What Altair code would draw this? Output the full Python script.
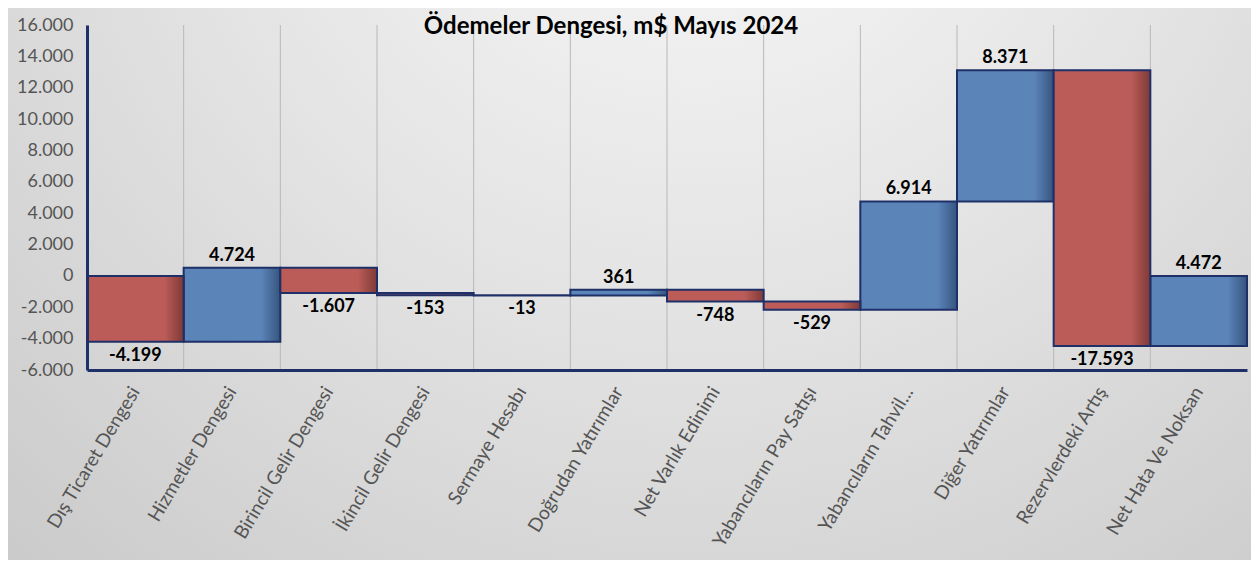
import altair as alt
import pandas as pd

categories = [
    "Dış Ticaret Dengesi", "Hizmetler Dengesi", "Birincil Gelir Dengesi",
    "İkincil Gelir Dengesi", "Sermaye Hesabı", "Doğrudan Yatırımlar",
    "Net Varlık Edinimi", "Yabancıların Pay Satışı", "Yabancıların Tahvil...",
    "Diğer Yatırımlar", "Rezervlerdeki Artış", "Net Hata Ve Noksan",
]
values = [-4199, 4724, -1607, -153, -13, 361, -748, -529, 6914, 8371, -17593, 4472]
y_ticks = [-6000, -4000, -2000, 0, 2000, 4000, 6000, 8000, 10000, 12000, 14000, 16000]
title_text = "Ödemeler Dengesi, m$ Mayıs 2024"

df = pd.DataFrame({"cat": categories, "value": values})
df["end"] = df["value"].cumsum()
df["start"] = df["end"] - df["value"]
df["label"] = [f"{v:,}".replace(",", ".") for v in values]

FONT = "Lato"
NAVY = "#1f3068"

def grad(base, dark):
    return alt.LinearGradient(
        gradient="linear", x1=0, y1=0, x2=1, y2=0,
        stops=[alt.GradientStop(offset=0, color=base),
               alt.GradientStop(offset=0.8, color=base),
               alt.GradientStop(offset=1, color=dark)],
    )

x_axis = alt.Axis(
    labelAngle=-59, labelFontSize=19, labelColor="#555555", labelFont=FONT,
    ticks=False, domainColor=NAVY, domainWidth=3, grid=False,
    labelPadding=18, labelLimit=400, zindex=1, labelOverlap=False,
)
y_axis = alt.Axis(
    values=y_ticks,
    labelExpr="replace(replace(format(datum.value, ','), ',', '.'), '\u2212', '-')",
    grid=False, ticks=False, domainColor=NAVY, domainWidth=3,
    labelFontSize=18, labelColor="#555555", labelFont=FONT, labelPadding=14,
    zindex=1, labelOverlap=False, labelFlush=False,
)
x_scale = alt.Scale(paddingInner=0, paddingOuter=0)
y_scale = alt.Scale(domain=[-6000, 16000], nice=False, zero=False)

x_enc = alt.X("cat:N", sort=categories, title=None, scale=x_scale, axis=x_axis)

base = alt.Chart(df)

bg = alt.Chart(pd.DataFrame({"a": [0]})).mark_rect(
    color=alt.RadialGradient(
        gradient="radial", x1=0.55, y1=0.1, r1=0, x2=0.55, y2=0.1, r2=0.9,
        stops=[alt.GradientStop(offset=0, color="#fafafa"),
               alt.GradientStop(offset=0.45, color="#e4e4e4"),
               alt.GradientStop(offset=1, color="#c6c6c6")],
    )
).encode(x=alt.value(-79), x2=alt.value(1172), y=alt.value(-17), y2=alt.value(540))

grid = base.mark_rule(color="#b8b8b8", strokeWidth=1).encode(
    x=alt.X("cat:N", sort=categories, title=None, bandPosition=0,
            scale=x_scale, axis=x_axis),
    y=alt.value(0), y2=alt.value(345),
)

bars_pos = base.transform_filter("datum.value > 0").mark_bar(
    color=grad("#5b84b9", "#36557f"), stroke=NAVY, strokeWidth=2
).encode(x=x_enc,
         y=alt.Y("start:Q", title=None, scale=y_scale, axis=y_axis),
         y2="end:Q")

bars_neg = base.transform_filter("datum.value < 0").mark_bar(
    color=grad("#bc5c58", "#7e3a38"), stroke=NAVY, strokeWidth=2
).encode(x=x_enc,
         y=alt.Y("start:Q", title=None, scale=y_scale, axis=y_axis),
         y2="end:Q")

txt_pos = base.transform_filter("datum.value > 0").mark_text(
    font=FONT, fontSize=18, fontWeight="bold", color="black",
    baseline="alphabetic", dy=-7,
).encode(x=x_enc,
         y=alt.Y("end:Q", title=None, scale=y_scale, axis=y_axis),
         text="label:N")

txt_neg = base.transform_filter("datum.value < 0").mark_text(
    font=FONT, fontSize=18, fontWeight="bold", color="black",
    baseline="top", dy=5,
).encode(x=x_enc,
         y=alt.Y("end:Q", title=None, scale=y_scale, axis=y_axis),
         text="label:N")

chart = alt.layer(bg, grid, bars_pos, bars_neg, txt_pos, txt_neg).properties(
    width=1160, height=345,
    autosize=alt.AutoSizeParams(type="none"),
    padding={"left": 79, "top": 17, "right": 4, "bottom": 190},
    title=alt.TitleParams(
        text=title_text, font=FONT, fontSize=24, fontWeight="bold",
        color="black", anchor="middle", dx=-56, offset=0, baseline="middle", dy=43,
    ),
).configure_view(stroke=None).configure_axisY(labelOverlap=False).configure(background="white")

chart.save("out.html", embed_options={"renderer": "svg", "actions": False})
